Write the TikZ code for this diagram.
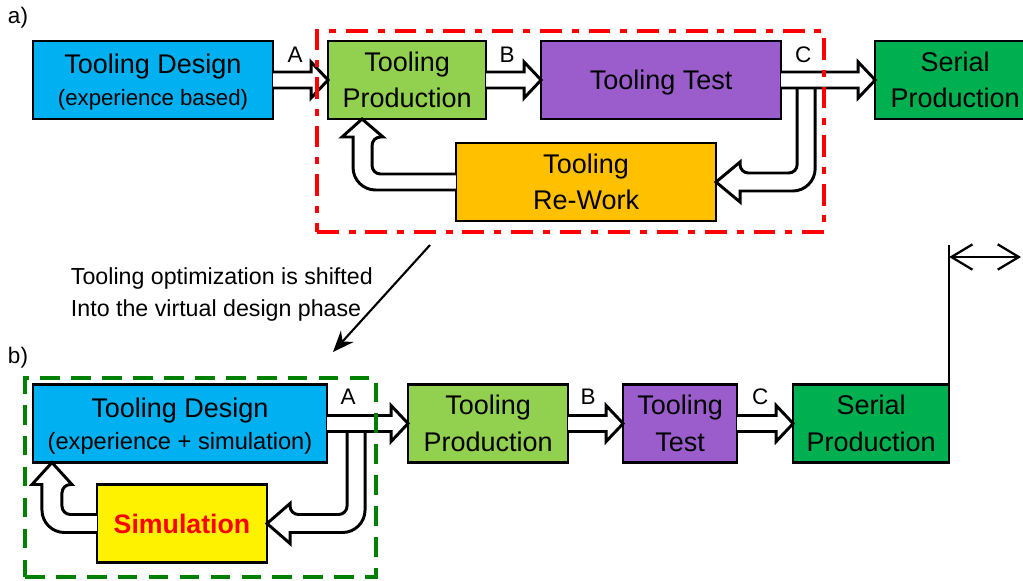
\documentclass[tikz,border=0pt]{standalone}
\usepackage{fontspec}
\setmainfont{Liberation Sans}
\usetikzlibrary{arrows.meta, positioning, calc}

\definecolor{designblue}{RGB}{0,176,240}
\definecolor{prodgreen}{RGB}{146,208,80}
\definecolor{testpurple}{RGB}{155,93,203}
\definecolor{serialgreen}{RGB}{0,176,80}
\definecolor{reworkorange}{RGB}{255,192,0}
\definecolor{zonegreen}{RGB}{0,128,0}

% hollow block arrow from the east side of #1 to the west side of #2
\newcommand{\fatarrow}[2]{%
  \filldraw[fat] ($(#1.east)+(0,-8)$) -- ($(#2.west)+(-17,-8)$) -- ++(0,-10)
    -- (#2.west) -- ++(-17,18) -- ++(0,-10) -- ($(#1.east)+(0,8)$);}

\begin{document}
\begin{tikzpicture}[x=0.025cm, y=-0.025cm,
    box/.style={draw, line width=1.8pt, align=center, inner sep=0pt, outer sep=0pt,
      minimum height=1.95cm, font=\fontsize{19.2}{26}\selectfont},
    fat/.style={fill=white, draw=black, line width=2.1pt, line join=miter},
    lbl/.style={font=\fontsize{16}{19}\selectfont},
    zone/.style={line width=2.8pt, inner sep=0pt}
]
\useasboundingbox (0,0) rectangle (1023,580);

% a) classical loop
\node[lbl] (partA) at (18,18) {a)};
\node[box, fill=designblue, minimum width=6cm, text depth=0pt] (desA) at (153,80)
  {Tooling Design\\[-3pt]{\fontsize{15.8}{19}\selectfont(experience based)}};
\node[box, fill=prodgreen, minimum width=3.95cm, right=1.375cm of desA] (prodA) {Tooling\\Production};
\node[box, fill=testpurple, minimum width=6cm, text depth=0pt, right=1.375cm of prodA] (testA) {Tooling Test};
\node[box, fill=serialgreen, minimum width=4cm, right=2.35cm of testA] (serA) {Serial\\Production};
\node[box, fill=reworkorange, minimum width=6.5cm] (rwA) at (586,182) {Tooling\\Re-Work};

% test -> re-work -> production
\filldraw[fat] ($(testA.east)+(16,8)$) [rounded corners=6pt] |- ($(rwA.east)+(24,-9)$) [sharp corners]
  -- ++(0,-11) -- (rwA.east) -- ++(24,20) -- ++(0,-11) [rounded corners=16pt] -| ($(testA.east)+(34,8)$);
\filldraw[fat] ($(rwA.west)+(0,-8)$) [rounded corners=6pt] -| ($(prodA.south west)+(44,18)$) [sharp corners]
  -- ++(11,0) -- ($(prodA.south west)+(34,0)$) -- ++(-20,18) -- ++(11,0) [rounded corners=16pt] |- ($(rwA.west)+(0,8)$);

\fatarrow{desA}{prodA}
\fatarrow{prodA}{testA}
\fatarrow{testA}{serA}
\node[lbl] (labA1) at ($(desA.east)+(22,-25)$) {A};
\node[lbl] (labB1) at ($(prodA.east)+(21,-25)$) {B};
\node[lbl] (labC1) at ($(testA.east)+(22,-25)$) {C};

\node[zone, draw=red, dash pattern=on 15.5pt off 7pt on 5pt off 7pt,
  minimum width=12.675cm, minimum height=5.025cm] (zoneA) at (570.5,131.5) {};

% shift note
\coordinate (shiftFrom) at (430,245);
\coordinate (shiftTo) at (333,352);
\draw[line width=1.5pt, -{Stealth[length=15pt, width=12pt]}] (shiftFrom) -- (shiftTo);
\node[anchor=west, align=left, font=\fontsize{16.5}{23.4}\selectfont] (shiftNote) at (66,294.5)
  {Tooling optimization is shifted\\Into the virtual design phase};

% b) virtual loop
\node[lbl] (partB) at (18,358) {b)};
\node[box, fill=designblue, minimum width=7.35cm, text depth=0pt] (desB) at (180,423.5)
  {Tooling Design\\[-3pt]{\fontsize{16.8}{19}\selectfont(experience + simulation)}};
\node[box, fill=prodgreen, minimum width=4cm, right=2.025cm of desB] (prodB) {Tooling\\Production};
\node[box, fill=testpurple, minimum width=2.85cm, right=1.375cm of prodB] (testB) {Tooling\\Test};
\node[box, fill=serialgreen, minimum width=3.9cm, right=1.4cm of testB] (serB) {Serial\\Production};
\node[box, fill=yellow, minimum width=4.25cm, text=red, font=\fontsize{19}{23}\selectfont\bfseries]
  (simB) at (182,523.5) {Simulation};

% design -> simulation -> design
\filldraw[fat] ($(desB.east)+(20,8)$) [rounded corners=6pt] |- ($(simB.east)+(23,-9)$) [sharp corners]
  -- ++(0,-11) -- (simB.east) -- ++(23,20) -- ++(0,-11) [rounded corners=16pt] -| ($(desB.east)+(38,8)$);
\filldraw[fat] ($(simB.west)+(0,-9)$) [rounded corners=6pt] -| ($(desB.south west)+(29,22)$) [sharp corners]
  -- ++(10,0) -- ($(desB.south west)+(19,0)$) -- ++(-20,22) -- ++(10,0) [rounded corners=16pt] |- ($(simB.west)+(0,9)$);

\fatarrow{desB}{prodB}
\fatarrow{prodB}{testB}
\fatarrow{testB}{serB}
\node[lbl] (labA2) at ($(desB.east)+(21,-27)$) {A};
\node[lbl] (labB2) at ($(prodB.east)+(20,-27)$) {B};
\node[lbl] (labC2) at ($(testB.east)+(23,-27)$) {C};

\node[zone, draw=zonegreen, dash pattern=on 14pt off 8pt,
  minimum width=8.775cm, minimum height=4.975cm] (zoneB) at (200.5,477.5) {};

% time saving
\coordinate (riseTop) at (949,245);
\coordinate (spanEnd) at (1021,257);
\draw[line width=1.6pt] (serB.north east) -- (serB.north east |- riseTop);
\draw[line width=1.6pt, {Straight Barb[length=15pt, width=18pt]}-{Straight Barb[length=15pt, width=18pt]}]
  (serB.north east |- spanEnd) -- (spanEnd);
\end{tikzpicture}
\end{document}
